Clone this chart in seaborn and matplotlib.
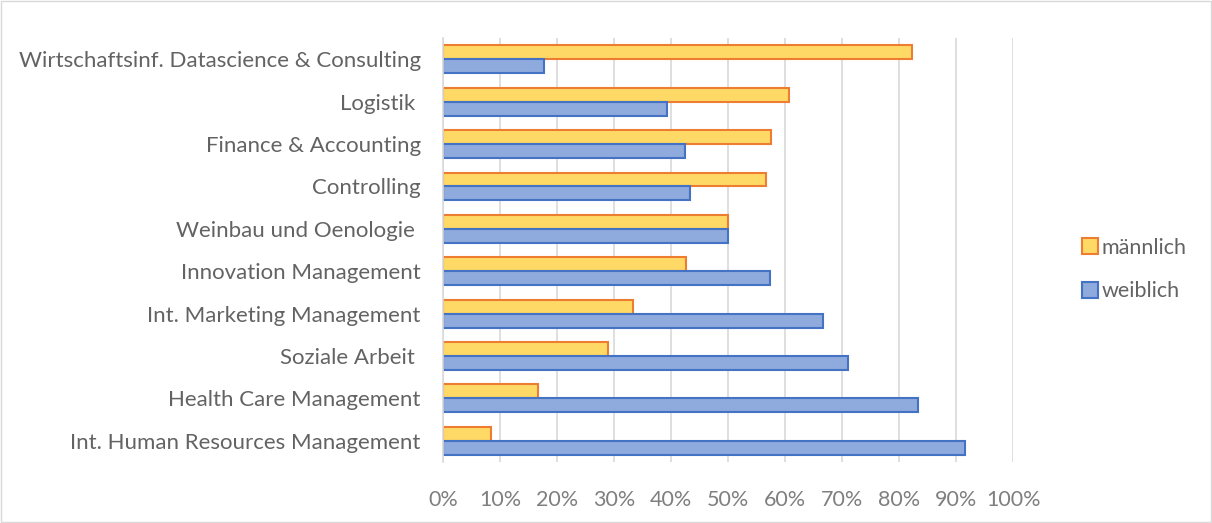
import matplotlib
matplotlib.use("Agg")
import matplotlib.pyplot as plt
import seaborn as sns
import pandas as pd
from matplotlib.ticker import PercentFormatter, MultipleLocator
from matplotlib.patches import Patch

categories = [
    "Wirtschaftsinf. Datascience & Consulting",
    "Logistik ",
    "Finance & Accounting",
    "Controlling",
    "Weinbau und Oenologie ",
    "Innovation Management",
    "Int. Marketing Management",
    "Soziale Arbeit ",
    "Health Care Management",
    "Int. Human Resources Management",
]
maennlich = [0.823, 0.607, 0.576, 0.566, 0.50, 0.427, 0.333, 0.289, 0.167, 0.084]
weiblich = [0.177, 0.393, 0.424, 0.434, 0.50, 0.573, 0.667, 0.711, 0.833, 0.916]
series = ["männlich", "weiblich"]

df = pd.DataFrame({
    "cat": categories * 2,
    "val": maennlich + weiblich,
    "sex": [series[0]] * len(categories) + [series[1]] * len(categories),
})

sns.set_theme(style="white")
plt.rcParams["font.family"] = ["Lato", "DejaVu Sans"]

fig = plt.figure(figsize=(12.12, 5.23), dpi=100)
ax = fig.add_axes([0.3655, 0.1166, 0.4705, 0.8105])

face = {"männlich": "#FFD966", "weiblich": "#8FAADC"}
edge = {"männlich": "#ED7D31", "weiblich": "#4472C4"}

sns.barplot(data=df, x="val", y="cat", hue="sex", hue_order=series,
            order=categories, orient="h", palette=face, width=0.66,
            saturation=1, ax=ax, legend=False, linewidth=1.5)

for cont, s in zip(ax.containers, series):
    for bar in cont:
        bar.set_facecolor(face[s])
        bar.set_edgecolor(edge[s])
        bar.set_linewidth(1.5)

ax.set_xlim(0, 1)
ax.set_ylim(len(categories) - 0.5, -0.5)
ax.xaxis.set_major_locator(MultipleLocator(0.1))
ax.xaxis.set_major_formatter(PercentFormatter(1.0, decimals=0))
ax.grid(axis="x", color="#D9D9D9", linewidth=1.2)
ax.set_axisbelow(True)
for sp in ["top", "right", "bottom"]:
    ax.spines[sp].set_visible(False)
ax.spines["left"].set_color("#D9D9D9")
ax.spines["left"].set_linewidth(1.2)
ax.set_xlabel("")
ax.set_ylabel("")
ax.tick_params(axis="x", labelsize=15.5, length=0, pad=20)
ax.tick_params(axis="y", labelsize=16, length=0, pad=16)
for lbl in ax.get_xticklabels():
    lbl.set_color("#7F7F7F")
for lbl in ax.get_yticklabels():
    lbl.set_color("#636363")

handles = [Patch(facecolor=face[s], edgecolor=edge[s], linewidth=1.5, label=s) for s in series]
leg = fig.legend(handles=handles, loc="center left", bbox_to_anchor=(0.877, 0.485),
                 frameon=False, fontsize=15.5, handlelength=0.75, handleheight=0.75,
                 handletextpad=0.15, labelspacing=1.1, labelcolor="#636363")

border = plt.Rectangle((0.001, 0.002), 0.998, 0.996, transform=fig.transFigure,
                       fill=False, edgecolor="#D9D9D9", linewidth=1)
fig.patches.append(border)

fig.savefig("out.png", dpi=100, facecolor="white")
